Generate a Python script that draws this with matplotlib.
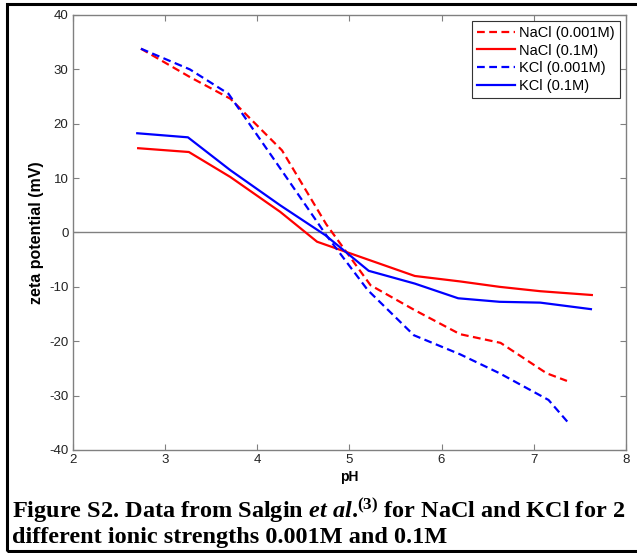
import matplotlib
matplotlib.use('Agg')
import matplotlib.pyplot as plt
from matplotlib.patches import Rectangle

# zeta potential vs pH
ph_nacl_low = [2.74, 3.27, 3.71, 4.27, 4.75, 5.23, 5.70, 6.20, 6.64, 7.14, 7.36]
zeta_nacl_low = [33.8, 28.6, 24.6, 15.1, 1.5, -9.7, -14.2, -18.7, -20.3, -25.9, -27.3]

ph_nacl_high = [2.71, 3.26, 3.71, 4.25, 4.65, 5.71, 6.20, 6.63, 7.07, 7.63]
zeta_nacl_high = [15.5, 14.8, 10.2, 3.8, -1.7, -8.0, -9.0, -10.0, -10.8, -11.5]

ph_kcl_low = [2.74, 3.27, 3.69, 4.23, 4.75, 5.20, 5.70, 6.20, 6.63, 7.16, 7.38]
zeta_kcl_low = [33.8, 30.0, 25.5, 12.3, -0.5, -10.6, -18.9, -22.4, -25.9, -30.8, -35.1]

ph_kcl_high = [2.70, 3.25, 3.71, 4.25, 4.74, 5.21, 5.71, 6.18, 6.63, 7.07, 7.62]
zeta_kcl_high = [18.25, 17.5, 11.45, 5.0, -0.5, -7.05, -9.4, -12.1, -12.75, -12.9, -14.1]

labels = ['NaCl (0.001M)', 'NaCl (0.1M)', 'KCl (0.001M)', 'KCl (0.1M)']

plt.rcParams['font.family'] = ['Liberation Sans', 'DejaVu Sans']
plt.rcParams['axes.unicode_minus'] = False
plt.rcParams['mathtext.fontset'] = 'custom'
plt.rcParams['mathtext.rm'] = 'Liberation Serif:bold'
plt.rcParams['mathtext.it'] = 'Liberation Serif:bold:italic'
plt.rcParams['mathtext.bf'] = 'Liberation Serif:bold'

fig = plt.figure(figsize=(6.37, 5.53), dpi=100)
ax = fig.add_axes([0.1141, 0.1863, 0.8686, 0.7866])

dash = (3.5, 2.0)
ax.plot(ph_nacl_low, zeta_nacl_low, color='#ff0000', lw=1.6, dashes=dash, label=labels[0])
ax.plot(ph_nacl_high, zeta_nacl_high, color='#ff0000', lw=1.6, label=labels[1])
ax.plot(ph_kcl_low, zeta_kcl_low, color='#0000ff', lw=1.6, dashes=dash, label=labels[2])
ax.plot(ph_kcl_high, zeta_kcl_high, color='#0000ff', lw=1.6, label=labels[3])
ax.axhline(0, color='#808080', lw=1.0, zorder=0)

ax.set_xlim(2, 8)
ax.set_ylim(-40, 40)
ax.set_xticks(range(2, 9))
ax.set_yticks(range(-40, 41, 10))
ax.tick_params(direction='in', top=True, right=True, length=4, width=0.8,
               color='#808080', labelsize=9.5, labelcolor='#222222', pad=3)
for s in ax.spines.values():
    s.set_color('#808080')
    s.set_linewidth(1.0)

ax.set_xlabel('pH', fontsize=10, fontweight='bold', labelpad=3)
ax.set_ylabel('zeta potential (mV)', fontsize=11.5, fontweight='bold', labelpad=4)

leg = ax.legend(loc='upper right', fontsize=10.5, fancybox=False, framealpha=1,
                edgecolor='#333333', borderpad=0.35, labelspacing=0.25,
                handlelength=2.6, handletextpad=0.3, borderaxespad=0.4)
leg.get_frame().set_linewidth(0.8)

cap1 = r'Figure S2. Data from Salgin $\mathit{et\ al}$.$^{(3)}$ for NaCl and KCl for 2'
cap2 = 'different ionic strengths 0.001M and 0.1M'
fig.text(12 / 637, 1 - 518 / 553, cap1, fontsize=17.5, fontweight='bold',
         family='Liberation Serif', va='baseline', ha='left')
fig.text(12 / 637, 1 - 543 / 553, cap2, fontsize=17.5, fontweight='bold',
         family='Liberation Serif', va='baseline', ha='left')

# outer frame around the figure (no right edge visible)
fig.patches.append(Rectangle((7 / 637, 2 / 553), 1.0, 1 - 5.5 / 553,
                             transform=fig.transFigure, fill=False,
                             edgecolor='black', lw=2.2))

fig.savefig('out.png', dpi=100)
